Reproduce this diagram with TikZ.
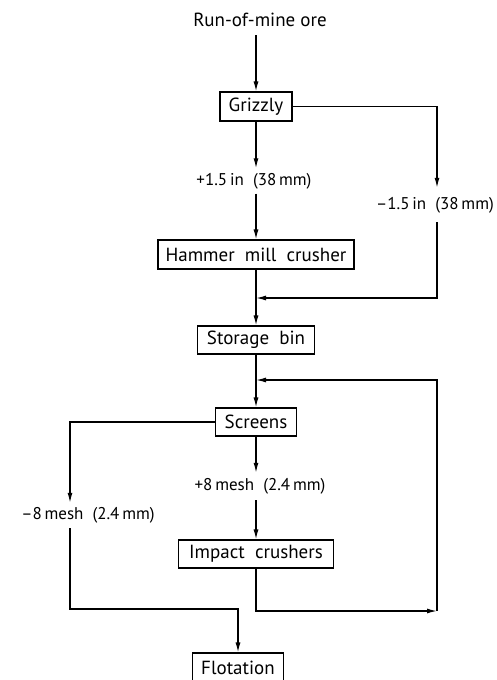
\documentclass[tikz,border=0pt]{standalone}
\usepackage{fontspec}
\setmainfont{PT Sans}
\usetikzlibrary{arrows.meta}
\begin{document}
\begin{tikzpicture}[x=1pt,y=-1pt,
  box/.style={draw,line width=1.1pt,minimum height=29pt,inner sep=0pt,font=\fontsize{19}{21}\selectfont},
  lbl/.style={inner sep=0pt,font=\fontsize{17}{19}\selectfont},
  arr/.style={line width=1.3pt,-{Latex[length=10pt,width=5pt]}},
  ln/.style={line width=1.3pt}]
\useasboundingbox (0,0) rectangle (496,680);
\node[inner sep=0pt,minimum height=30pt,font=\fontsize{19}{21}\selectfont] (rom) at (260,20) {Run-of-mine ore};
\node[box,minimum width=72pt] (grizzly) at (256,106.5) {Grizzly};
\node[lbl,minimum height=25pt] (lab1) at (254,181) {+1.5\,in\ \ (38\,mm)};
\node[lbl,minimum height=34pt] (lab2) at (435,205) {–1.5\,in\ \ (38\,mm)};
\node[box,minimum width=196pt] (hammer) at (256,254.5) {Hammer\ \ mill\ \ crusher};
\node[box,minimum width=117pt,minimum height=28pt] (storage) at (256,340) {Storage\ \ bin};
\node[box,minimum width=81pt,minimum height=28pt] (screens) at (256,422) {Screens};
\node[lbl,minimum height=27pt] (lab4) at (260,486.5) {+8\,mesh\ \ (2.4\,mm)};
\node[lbl,minimum height=25pt] (lab3) at (88,515.5) {–8\,mesh\ \ (2.4\,mm)};
\node[box,minimum width=155pt,minimum height=28pt] (impact) at (256,554) {Impact\ \ crushers};
\node[box,minimum width=91pt] (flot) at (238,667.5) {Flotation};
\coordinate (j1) at (256,298);
\coordinate (j2) at (256,380);
\coordinate (c1) at (437,611);
\coordinate (c8) at (70,0);
\coordinate (c9) at (238,609);
\coordinate (c2) at (256,0);
\coordinate (c3) at (437,0);
% main line
\draw[arr] (rom.south -| c2) -- (grizzly.north);
\draw[arr] (grizzly.south) -- (lab1.north -| c2);
\draw[arr] (lab1.south -| c2) -- (hammer.north);
\draw[arr] (grizzly.east) -| (lab2.north -| c3);
\draw[arr] (lab2.south -| c3) |- (j1);
\draw[arr] (hammer.south) -- (storage.north);
\draw[arr] (storage.south) -- (screens.north);
\draw[arr] (screens.south) -- (lab4.north -| c2);
\draw[arr] (lab4.south -| c2) -- (impact.north);
\draw[arr] (impact.south) |- (c1);
\draw[arr] (c1) |- (j2);
\draw[arr] (screens.west) -| (lab3.north -| c8);
\draw[arr] (lab3.south -| c8) |- (c9) -- (flot.north);
\end{tikzpicture}
\end{document}
